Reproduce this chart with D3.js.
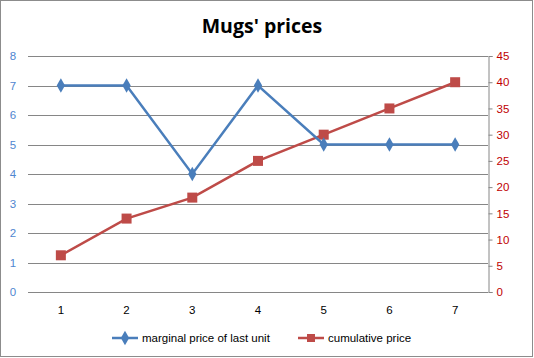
<!DOCTYPE html>
<html>
<head>
<meta charset="utf-8">
<script src="https://cdn.jsdelivr.net/npm/d3@7"></script>
<style>
  body { margin: 0; background: #fff; }
  text { font-family: "Liberation Sans", Arial, sans-serif; }
</style>
</head>
<body>
<svg id="chart" width="534" height="358"></svg>
<script>
// Chart data
const units = [1, 2, 3, 4, 5, 6, 7];
const marginalPrice = [7, 7, 4, 7, 5, 5, 5];
const cumulativePrice = [7, 14, 18, 25, 30, 35, 40];
const leftTicks = [0, 1, 2, 3, 4, 5, 6, 7, 8];
const rightTicks = [0, 5, 10, 15, 20, 25, 30, 35, 40, 45];
const seriesNames = ['marginal price of last unit', 'cumulative price'];

const W = 534, H = 358;
const plot = { left: 28, right: 488, top: 56, bottom: 292 };
const blue = '#4a7ebb', red = '#be4b48';

const svg = d3.select('#chart');

// Outer border
svg.append('rect')
    .attr('x', 0.5).attr('y', 0.5)
    .attr('width', W - 2).attr('height', H - 2)
    .attr('fill', '#fff').attr('stroke', '#8c8c8c');

// Title
svg.append('text')
    .attr('x', 262).attr('y', 33)
    .attr('text-anchor', 'middle')
    .style('font-family', '"Open Sans", sans-serif')
    .style('font-size', '19.5px').style('font-weight', 'bold')
    .text("Mugs' prices");

const x = d3.scaleBand().domain(units).range([plot.left, plot.right]);
const yL = d3.scaleLinear().domain([0, 8]).range([plot.bottom, plot.top]);
const yR = d3.scaleLinear().domain([0, 45]).range([plot.bottom, plot.top]);

// Gridlines (left axis)
svg.append('g')
    .selectAll('line')
    .data(leftTicks)
    .join('line')
    .attr('x1', plot.left).attr('x2', plot.right)
    .attr('y1', d => Math.round(yL(d)) + 0.5).attr('y2', d => Math.round(yL(d)) + 0.5)
    .attr('stroke', '#868686');

// Left tick labels
svg.append('g')
    .selectAll('text')
    .data(leftTicks)
    .join('text')
    .attr('x', 13).attr('y', d => yL(d) + 4)
    .attr('text-anchor', 'middle')
    .attr('fill', '#4f86d0')
    .style('font-size', '11.5px')
    .text(d => d);

// Right axis
const rightAxis = svg.append('g')
    .attr('transform', `translate(${plot.right + 0.5},0)`)
    .call(d3.axisRight(yR).tickValues(rightTicks).tickSize(4).tickPadding(4));
rightAxis.select('.domain').attr('stroke', '#868686');
rightAxis.selectAll('.tick line').attr('stroke', '#868686');
rightAxis.selectAll('.tick text')
    .attr('fill', '#c00000')
    .style('font-size', '11.5px')
    .style('font-family', '"Liberation Sans", Arial, sans-serif');

// X tick labels
svg.append('g')
    .selectAll('text')
    .data(units)
    .join('text')
    .attr('x', d => x(d) + x.bandwidth() / 2)
    .attr('y', 314)
    .attr('text-anchor', 'middle')
    .style('font-size', '11.5px')
    .text(d => d);

const cx = d => x(d) + x.bandwidth() / 2;

// Cumulative price line (right axis)
svg.append('path')
    .datum(units.map((u, i) => [cx(u), yR(cumulativePrice[i])]))
    .attr('d', d3.line())
    .attr('fill', 'none').attr('stroke', red).attr('stroke-width', 2.5);

svg.append('g')
    .selectAll('rect')
    .data(units)
    .join('rect')
    .attr('x', (d, i) => cx(d) - 5).attr('y', (d, i) => yR(cumulativePrice[i]) - 5)
    .attr('width', 10).attr('height', 10)
    .attr('fill', red);

// Marginal price line (left axis)
svg.append('path')
    .datum(units.map((u, i) => [cx(u), yL(marginalPrice[i])]))
    .attr('d', d3.line())
    .attr('fill', 'none').attr('stroke', blue).attr('stroke-width', 2.5);

const diamond = d3.symbol().type(d3.symbolDiamond).size(60);
svg.append('g')
    .selectAll('path')
    .data(units)
    .join('path')
    .attr('transform', (d, i) => `translate(${cx(d)},${yL(marginalPrice[i])})`)
    .attr('d', diamond)
    .attr('fill', blue);

// Legend
const legend = svg.append('g');
const legendItems = [
    { name: seriesNames[0], color: blue, x: 112, marker: 'diamond' },
    { name: seriesNames[1], color: red, x: 298, marker: 'square' }
];
legendItems.forEach(item => {
    const g = legend.append('g').attr('transform', `translate(${item.x},338)`);
    g.append('line').attr('x1', 0).attr('x2', 26).attr('stroke', item.color).attr('stroke-width', 2.5);
    if (item.marker === 'diamond') {
        g.append('path').attr('transform', 'translate(13,0)').attr('d', diamond).attr('fill', item.color);
    } else {
        g.append('rect').attr('x', 9).attr('y', -4).attr('width', 8).attr('height', 8).attr('fill', item.color);
    }
    g.append('text').attr('x', 30).attr('y', 4).style('font-size', '11.5px').text(item.name);
});
</script>
</body>
</html>
